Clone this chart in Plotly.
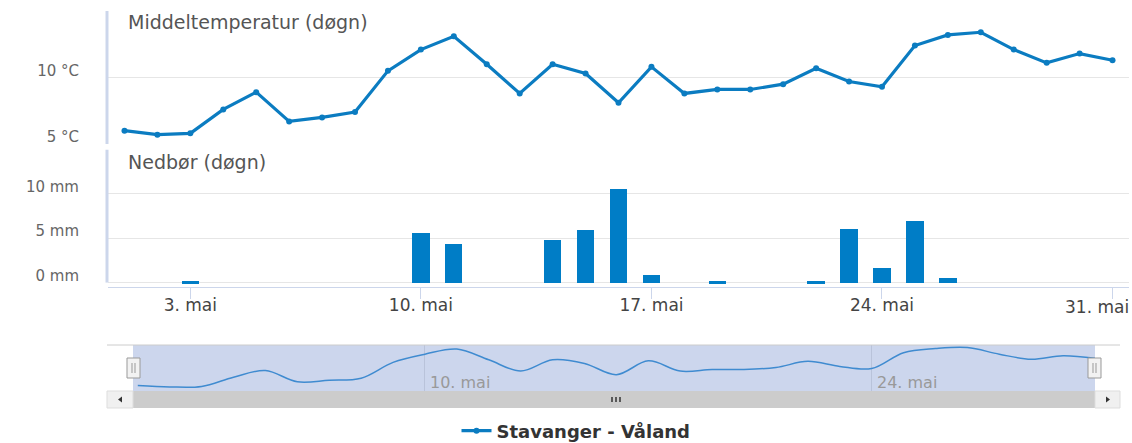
import pandas as pd
import plotly.graph_objects as go

W, H = 1132, 443

# Daily observations, May
days = pd.date_range("2019-05-01", "2019-05-31", freq="D")
temperature = [6.0, 5.7, 5.8, 7.6, 8.9, 6.7, 7.0, 7.4, 10.5, 12.1, 13.1, 11.0, 8.8,
               11.0, 10.3, 8.1, 10.8, 8.8, 9.1, 9.1, 9.5, 10.7, 9.7, 9.3, 12.4, 13.2,
               13.4, 12.1, 11.1, 11.8, 11.3]
precipitation = [0, 0, 0.2, 0, 0, 0, 0, 0, 0, 5.7, 4.4, 0, 0, 4.8, 6.0, 10.6, 0.9, 0,
                 0.2, 0, 0, 0.2, 6.1, 1.7, 7.0, 0.6, 0, 0, 0, 0, 0]

tick_dates = ["2019-05-03", "2019-05-10", "2019-05-17", "2019-05-24", "2019-05-31"]
tick_labels = ["3. mai", "10. mai", "17. mai", "24. mai", "31. mai"]
temp_ticks = [5, 10, 15]
temp_labels = ["5 °C", "10 °C", ""]
precip_ticks = [0, 5, 10, 15]
precip_labels = ["0 mm", "5 mm", "10 mm", ""]
nav_ticks = ["2019-05-10", "2019-05-24"]
nav_labels = ["10. mai", "24. mai"]
station = "Stavanger - Våland"

FONT = "DejaVu Sans"
LINE_BLUE = "#0b7cc1"
BAR_BLUE = "#007dc6"
NAV_BLUE = "#3f8bd0"
GRID = "#e6e6e6"
AXIS = "#ccd6eb"


def px(x):
    return x / W


def py(y):
    return 1 - y / H


fig = go.Figure()

fig.add_trace(go.Scatter(
    x=days, y=temperature, mode="lines+markers", name=station,
    line=dict(color=LINE_BLUE, width=3.2), marker=dict(size=6, color=LINE_BLUE),
    xaxis="x", yaxis="y", hoverinfo="skip"))

fig.add_trace(go.Bar(
    x=days, y=precipitation, marker=dict(color=BAR_BLUE, line=dict(width=0)),
    width=0.525 * 86400000, xaxis="x2", yaxis="y2", showlegend=False,
    hoverinfo="skip"))

fig.add_trace(go.Scatter(
    x=days, y=temperature, mode="lines",
    line=dict(color=NAV_BLUE, width=1.5, shape="spline", smoothing=1.0),
    xaxis="x3", yaxis="y3", showlegend=False, hoverinfo="skip"))

main_range = ["2019-04-30 12:00", "2019-05-31 12:00"]
main_domain = [px(108), px(1129)]

fig.update_layout(
    width=W, height=H,
    margin=dict(l=0, r=0, t=0, b=0, autoexpand=False),
    paper_bgcolor="white", plot_bgcolor="white",
    font=dict(family=FONT, color="#666666"),
    bargap=0,
    xaxis=dict(domain=main_domain, range=main_range, matches="x2",
               showgrid=False, showticklabels=False, showline=False,
               zeroline=False, anchor="y", automargin=False),
    yaxis=dict(domain=[py(144), py(11)], range=[5, 15], tickvals=temp_ticks,
               ticktext=temp_labels, showgrid=True, gridcolor=GRID, gridwidth=1,
               zeroline=False, showline=False, ticks="",
               tickfont=dict(size=15, color="#666666"),
               ticklabelstandoff=28, ticklabelshift=-7, anchor="x",
               automargin=False),
    xaxis2=dict(domain=main_domain, range=main_range, tickvals=tick_dates,
                ticktext=tick_labels[:-1] + [""], showgrid=False, zeroline=False,
                showline=True, linecolor=AXIS, linewidth=1,
                ticks="outside", ticklen=11, tickcolor=AXIS, tickwidth=1,
                tickfont=dict(size=17, color="#444444"),
                ticklabelstandoff=-8, anchor="y2", automargin=False),
    yaxis2=dict(domain=[py(287), py(149.5)], range=[-0.5, 15],
                tickvals=precip_ticks, ticktext=precip_labels, showgrid=True,
                gridcolor=GRID, gridwidth=1, zeroline=False, showline=False,
                ticks="", tickfont=dict(size=15, color="#666666"),
                ticklabelstandoff=28, ticklabelshift=-7, anchor="x2",
                automargin=False),
    xaxis3=dict(domain=[px(133), px(1095)],
                range=["2019-04-30 20:24", "2019-05-31 00:00"],
                tickvals=nav_ticks, showticklabels=False, showgrid=True,
                gridcolor="#b9c3da", gridwidth=1, zeroline=False,
                showline=False, ticks="", anchor="y3", automargin=False),
    yaxis3=dict(domain=[py(391), py(345)], range=[4.9, 13.9], showgrid=False,
                showticklabels=False, zeroline=False, showline=False,
                ticks="", anchor="x3", automargin=False),
    showlegend=True,
    legend=dict(orientation="h", x=px(576), xanchor="center", y=py(431),
                yanchor="middle", bgcolor="rgba(0,0,0,0)",
                font=dict(family=FONT, size=18, color="#333333", weight="bold")),
)

shapes = []
# Left edge bars of the two panels
shapes.append(dict(type="line", xref="paper", yref="y", x0=px(107), x1=px(107),
                   y0=5, y1=15, line=dict(color=AXIS, width=3)))
shapes.append(dict(type="line", xref="paper", yref="y2", x0=px(107), x1=px(107),
                   y0=0, y1=15, line=dict(color=AXIS, width=3)))

# Navigator: selection mask and outline
shapes.append(dict(type="rect", xref="paper", yref="paper", layer="below",
                   x0=px(133), x1=px(1095), y0=py(391), y1=py(345),
                   fillcolor="rgb(204,214,237)", line=dict(width=0)))
shapes.append(dict(type="line", xref="paper", yref="paper",
                   x0=px(107), x1=px(1120), y0=py(345), y1=py(345),
                   line=dict(color="#cccccc", width=1)))

# Scrollbar track, bar and buttons
shapes.append(dict(type="rect", xref="paper", yref="paper",
                   x0=px(107), x1=px(1120), y0=py(408), y1=py(391),
                   fillcolor="#f2f2f2", line=dict(width=0)))
shapes.append(dict(type="rect", xref="paper", yref="paper",
                   x0=px(133), x1=px(1095), y0=py(408), y1=py(391),
                   fillcolor="#cccccc", line=dict(width=0)))
for bx0, bx1 in [(107, 133), (1095, 1120)]:
    shapes.append(dict(type="rect", xref="paper", yref="paper",
                       x0=px(bx0), x1=px(bx1), y0=py(408), y1=py(391),
                       fillcolor="#f0f0f0", line=dict(color="#dddddd", width=1)))
shapes.append(dict(type="path", xref="paper", yref="paper",
                   path=f"M {px(118)} {py(399.5)} L {px(122)} {py(396.5)} "
                        f"L {px(122)} {py(402.5)} Z",
                   fillcolor="#333333", line=dict(width=0)))
shapes.append(dict(type="path", xref="paper", yref="paper",
                   path=f"M {px(1110)} {py(399.5)} L {px(1106)} {py(396.5)} "
                        f"L {px(1106)} {py(402.5)} Z",
                   fillcolor="#333333", line=dict(width=0)))
for gx in (612, 616, 620):
    shapes.append(dict(type="line", xref="paper", yref="paper",
                       x0=px(gx), x1=px(gx), y0=py(397), y1=py(402),
                       line=dict(color="#333333", width=1.5)))

# Navigator handles
for hx in (133.5, 1094.5):
    shapes.append(dict(type="rect", xref="paper", yref="paper",
                       x0=px(hx - 6.5), x1=px(hx + 6.5), y0=py(378), y1=py(358),
                       fillcolor="#f2f2f2", line=dict(color="#999999", width=1)))
    for dx in (-1.5, 1.5):
        shapes.append(dict(type="line", xref="paper", yref="paper",
                           x0=px(hx + dx), x1=px(hx + dx), y0=py(373), y1=py(363),
                           line=dict(color="#999999", width=1)))

annotations = [
    dict(text="Middeltemperatur (døgn)", xref="paper", yref="paper",
         x=px(126), y=py(22), xanchor="left", yanchor="middle", showarrow=False,
         font=dict(family=FONT, size=19, color="#555555")),
    dict(text="Nedbør (døgn)", xref="paper", yref="paper",
         x=px(126), y=py(162), xanchor="left", yanchor="middle", showarrow=False,
         font=dict(family=FONT, size=19, color="#555555")),
    # last axis label is kept inside the chart's right edge
    dict(text=tick_labels[-1], xref="paper", yref="paper",
         x=px(1131), y=py(307), xanchor="right", yanchor="middle",
         showarrow=False, font=dict(family=FONT, size=17, color="#444444")),
]
for d, lab in zip(nav_ticks, nav_labels):
    annotations.append(dict(text=lab, xref="x3", yref="paper", x=d, y=py(382),
                            xanchor="left", yanchor="middle", xshift=3,
                            showarrow=False,
                            font=dict(family=FONT, size=16, color="#999999")))

fig.update_layout(shapes=shapes, annotations=annotations)

fig.write_html("out.html")
